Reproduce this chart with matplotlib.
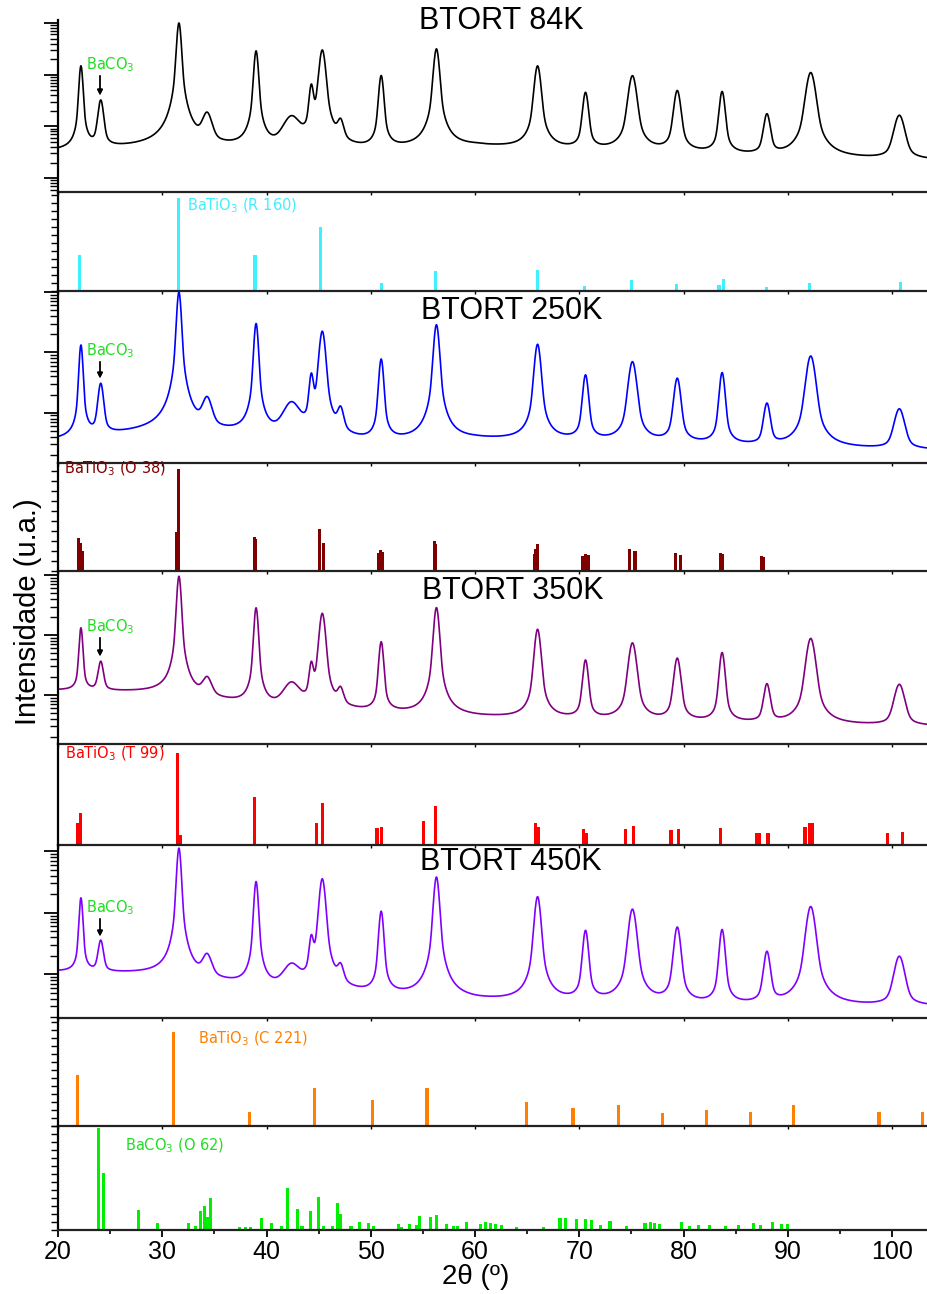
import numpy as np
import matplotlib
matplotlib.use("Agg")
import matplotlib.pyplot as plt
from matplotlib.ticker import MultipleLocator, LogLocator, NullFormatter

plt.rcParams['font.family'] = ['Liberation Sans', 'DejaVu Sans']
plt.rcParams['mathtext.default'] = 'regular'

# ------------------ Datos ------------------

# posiciones (2theta) y anchos de los picos experimentales
peak_pos = [22.2, 24.1, 31.6, 34.3, 39.0, 42.4, 44.3, 45.35, 47.1, 51.0, 56.3,
            66.0, 70.6, 75.1, 79.4, 83.7, 88.0, 92.2, 100.7]
peak_fwhm = [0.33, 0.5, 0.38, 0.9, 0.38, 1.6, 0.4, 0.55, 0.6, 0.42, 0.48,
             0.55, 0.5, 0.7, 0.6, 0.5, 0.6, 0.8, 0.95]

# alturas maximas (u.a., escala log) por temperatura
tops_84k = [1480, 316, 10000, 163, 2880, 141, 562, 3000, 105, 955, 3160,
            1480, 450, 955, 490, 470, 170, 1100, 163]
tops_250k = [132, 30, 1000, 16, 300, 13.6, 38, 223, 10, 77, 287,
             136, 42, 70, 37, 46, 14, 87, 11.5]
tops_350k = [132, 36, 960, 18, 285, 15, 29, 230, 11, 77, 288,
             125, 38, 74, 41, 51, 15, 88, 15]
tops_450k = [174, 35, 1120, 19, 320, 13, 33, 355, 11, 105, 380,
             182, 51, 114, 58, 53, 23, 126, 19.5]

bg_x = [20, 30, 40, 50, 60, 70, 80, 90, 104]
bg_84k = [33, 40, 33, 32, 40, 33, 30, 24, 22]
bg_250k = [3.5, 5, 4, 3, 3.5, 3.3, 3, 2.6, 2.4]
bg_350k = [12, 11, 6, 5, 4.2, 3.8, 3.5, 3.2, 3.0]
bg_450k = [11, 10, 5.5, 4.4, 3.6, 3.4, 3.1, 3.0, 3.0]

# patrones de referencia (posicion, altura relativa)
r160_pos = [22.1, 31.6, 38.9, 45.2, 51.0, 56.2, 66.0, 70.5, 75.0, 79.3, 83.4, 83.8, 88.0, 92.1, 100.8]
r160_h = [36, 93, 36, 64, 8, 20, 21, 5, 11, 7, 6, 12, 4, 8, 9]

o38_pos = [22.0, 22.15, 22.3, 31.4, 31.6, 38.85, 38.95, 45.1, 45.45, 50.75, 50.9, 51.1,
           56.1, 56.25, 65.7, 65.85, 66.0, 70.3, 70.6, 70.85, 74.8, 75.35, 79.2, 79.7,
           83.55, 83.7, 87.5, 87.7]
o38_h = [33, 28, 20, 39, 102, 34, 32, 42, 28, 18, 21, 19,
         30, 27, 17, 22, 27, 15, 17, 16, 22, 20, 18, 16,
         18, 17, 15, 14]

t99_pos = [21.9, 22.2, 31.45, 31.7, 38.85, 44.8, 45.35, 50.6, 51.05, 55.1, 56.2,
           65.8, 66.1, 70.4, 70.7, 74.4, 75.2, 78.8, 79.5, 83.55, 87.0, 87.3, 88.1,
           91.65, 92.1, 92.4, 99.55, 101.0]
t99_h = [22, 32, 92, 10, 48, 22, 42, 17, 18, 24, 39,
         22, 18, 16, 12, 16, 19, 15, 16, 17, 12, 12, 12,
         18, 22, 22, 12, 13]

c221_pos = [21.85, 31.1, 38.35, 44.6, 50.2, 55.4, 64.9, 69.4, 73.75, 78.0, 82.2,
            86.4, 90.55, 98.75, 102.9]
c221_h = [51, 94, 14, 38, 26, 38, 24, 18, 21, 13, 16, 14, 21, 14, 14]

baco3_pos = [23.9, 24.35, 27.75, 29.55, 32.55, 33.2, 33.7, 34.05, 34.3, 34.6,
             37.4, 38.0, 38.5, 39.5, 40.5, 41.4, 42.0, 42.95, 43.4, 44.2, 44.95,
             45.45, 46.35, 46.8, 47.05, 48.1, 48.9, 49.75, 50.25, 52.65, 52.95,
             53.7, 54.35, 54.7, 55.7, 56.3, 57.3, 57.9, 58.35, 59.2, 60.5, 61.0,
             61.5, 62.0, 62.5, 64.0, 66.6, 68.15, 68.7, 69.7, 70.6, 71.2, 72.0,
             72.95, 74.5, 76.3, 76.8, 77.2, 77.7, 79.8, 80.6, 81.4, 82.5, 84.0,
             85.3, 86.7, 87.4, 88.5, 89.4, 90.0]
baco3_h = [102, 57, 20, 7, 7, 4, 19, 24, 13, 32,
           3, 3, 3, 12, 7, 4, 42, 21, 4, 19, 33,
           4, 4, 27, 16, 4, 8, 7, 4, 6, 3,
           6, 5, 14, 13, 15, 6, 4, 4, 8, 6, 8,
           7, 6, 5, 3, 3, 12, 12, 11, 11, 10, 5,
           9, 4, 7, 8, 7, 6, 8, 4, 5, 5, 4,
           5, 7, 5, 8, 6, 6]

# ------------------ Funciones ------------------

W, H = 928, 1294
X0, X1 = 20, 103.45
SMALL = ['DejaVu Sans']


def fig_xy(x, y):
    return x / W, 1 - y / H


def add_panel(fig, top, bot):
    ax = fig.add_axes([58 / W, 1 - bot / H, 1 - 58 / W, (bot - top) / H])
    ax.set_xlim(X0, X1)
    ax.spines['top'].set_visible(False)
    ax.spines['right'].set_visible(False)
    ax.spines['left'].set_linewidth(1.6)
    ax.spines['bottom'].set_linewidth(1.6)
    ax.spines['bottom'].set_color('#222222')
    ax.xaxis.set_major_locator(MultipleLocator(10))
    ax.tick_params(axis='x', direction='out', length=2.5, width=1, labelbottom=False)
    ax.set_facecolor('none')
    return ax


def pattern(x, tops, bg_vals):
    bg = 10 ** np.interp(x, bg_x, np.log10(bg_vals))
    y = bg.copy()
    for p, w, t in zip(peak_pos, peak_fwhm, tops):
        h = t - 10 ** np.interp(p, bg_x, np.log10(bg_vals))
        d = (x - p) / w
        lor = 1 / (1 + 4 * d ** 2)
        gau = np.exp(-4 * np.log(2) * d ** 2)
        y += h * (0.45 * lor + 0.55 * gau)
    return y


def exp_panel(ax, tops, bg_vals, color, lo, hi):
    x = np.linspace(X0, X1, 5000)
    ax.plot(x, pattern(x, tops, bg_vals), color=color, lw=1.2)
    ax.set_yscale('log')
    ax.set_ylim(10 ** lo, 10 ** hi)
    ax.yaxis.set_major_locator(LogLocator(base=10))
    ax.yaxis.set_minor_locator(LogLocator(base=10, subs=np.arange(2, 10)))
    ax.yaxis.set_major_formatter(NullFormatter())
    ax.yaxis.set_minor_formatter(NullFormatter())
    ax.tick_params(axis='y', which='major', length=10, width=1.3)
    ax.tick_params(axis='y', which='minor', length=6, width=1)


def stick_panel(ax, pos, h, color, ymax, step):
    ax.bar(pos, h, width=0.3, color=color, linewidth=0)
    ax.set_ylim(0, ymax)
    if step:
        ax.yaxis.set_major_locator(MultipleLocator(step))
        ax.tick_params(axis='y', length=5, width=1, labelleft=False)
    else:
        ax.set_yticks([])


def main():
    fig = plt.figure(figsize=(W / 100, H / 100), dpi=100)

    bounds = [(20, 192), (192, 291), (291, 463), (463, 571), (571, 744),
              (744, 845), (845, 1018), (1018, 1126), (1126, 1230)]
    axs = [add_panel(fig, t, b) for t, b in bounds]

    exp_panel(axs[0], tops_84k, bg_84k, 'black', 0.731, 4.058)
    stick_panel(axs[1], r160_pos, r160_h, '#3FF0FF', 99, 8)
    exp_panel(axs[2], tops_250k, bg_250k, '#0000FF', 0.167, 3.017)
    stick_panel(axs[3], o38_pos, o38_h, '#800000', 108, 10)
    exp_panel(axs[4], tops_350k, bg_350k, '#800080', 0.183, 3.07)
    stick_panel(axs[5], t99_pos, t99_h, '#FF0000', 101, None)
    exp_panel(axs[6], tops_450k, bg_450k, '#8000FF', 0.29, 3.1)
    stick_panel(axs[7], c221_pos, c221_h, '#FF8000', 108, 8)
    stick_panel(axs[8], baco3_pos, baco3_h, '#00EE00', 104, 8)

    bottom = axs[-1]
    bottom.xaxis.set_minor_locator(MultipleLocator(5))
    bottom.set_xticks([20, 30, 40, 50, 60, 70, 80, 90, 100])
    bottom.tick_params(axis='x', which='major', length=5, width=1.3, labelbottom=True,
                       labelsize=18, pad=2)
    bottom.tick_params(axis='x', which='minor', length=3, width=1.2)

    # titulos de cada muestra
    for label, x, y in [('BTORT 84K', 501, 21), ('BTORT 250K', 512, 311),
                        ('BTORT 350K', 513, 591), ('BTORT 450K', 511, 862)]:
        fig.text(*fig_xy(x, y), label, fontsize=22, ha='center', va='center')

    # marcas de BaCO3 con flecha
    for ty, y0, y1 in [(65, 73, 98), (351, 359, 381), (627, 635, 659), (908, 916, 939)]:
        fig.text(*fig_xy(86, ty), 'BaCO$_3$', color='#22DD22', fontsize=10.5,
                 va='center', family=SMALL)
        fig.add_artist(plt.annotate('', xy=fig_xy(100, y1), xytext=fig_xy(100, y0),
                                    xycoords='figure fraction',
                                    arrowprops=dict(arrowstyle='-|>', color='black',
                                                    lw=1, mutation_scale=8)))

    # etiquetas de los patrones de referencia
    refs = [('BaTiO$_3$ (R 160)', '#3FF0FF', 187, 206),
            ('BaTiO$_3$ (O 38)', '#800000', 64, 469),
            ('BaTiO$_3$ (T 99)', '#FF0000', 65, 754),
            ('BaTiO$_3$ (C 221)', '#FF8000', 198, 1039),
            ('BaCO$_3$ (O 62)', '#22DD22', 125, 1146)]
    for txt, c, x, y in refs:
        fig.text(*fig_xy(x, y), txt, color=c, fontsize=10.5, va='center', family=SMALL)

    fig.text(*fig_xy(28, 612), 'Intensidade (u.a.)', fontsize=21, rotation=90,
             ha='center', va='center')
    fig.text(*fig_xy(476, 1277), '2θ (º)', fontsize=20, ha='center', va='center')

    fig.savefig('out.png', dpi=100)


if __name__ == "__main__":
    main()
